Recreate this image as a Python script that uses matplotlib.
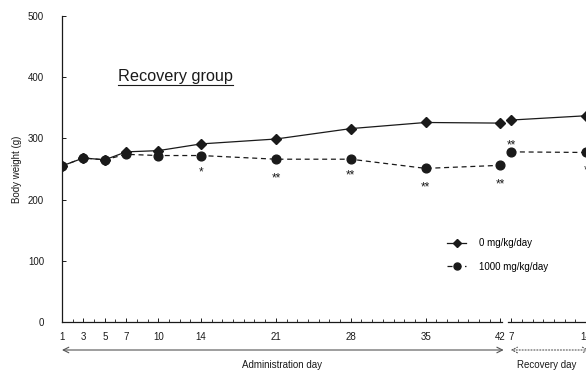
import numpy as np
import matplotlib.pyplot as plt
from matplotlib.lines import Line2D
import matplotlib.transforms as mtrans

plt.rcParams['font.family'] = ['Liberation Sans', 'DejaVu Sans']

# administration phase
adm_days = [1, 3, 5, 7, 10, 14, 21, 28, 35, 42]
ctrl_adm = [255, 268, 265, 278, 280, 291, 299, 316, 326, 325]
high_adm = [255, 268, 265, 274, 272, 272, 266, 266, 251, 256]
# recovery phase
rec_days = [7, 14]
ctrl_rec = [330, 337]
high_rec = [278, 277]
# significance marks for the 1000 mg/kg/day group
adm_marks = ['', '', '', '', '', '*', '**', '**', '**', '**']
rec_marks = ['**', '*']

REC_SHIFT = 36   # recovery day d drawn at x = d + 36
ink = '#1a1a1a'

fig = plt.figure(figsize=(5.86, 3.72), dpi=100)
ax = fig.add_axes([62/586, 50/372, 1 - 62/586, 306/372])

rec_x = [d + REC_SHIFT for d in rec_days]

solid = dict(color=ink, lw=0.9, marker='D', ms=5.5, mfc=ink, mec=ink)
dashed = dict(color=ink, lw=0.9, ls=(0, (4, 3)), marker='o', ms=6.3, mfc=ink, mec=ink)

ax.plot(adm_days, ctrl_adm, label='0 mg/kg/day', **solid)
ax.plot(adm_days, high_adm, label='1000 mg/kg/day', **dashed)
ax.plot(rec_x, ctrl_rec, **solid)
ax.plot(rec_x, high_rec, **dashed)

# asterisks
below = [0, 0, 0, 0, 0, -17, -19, -16, -19, -19]
for x, y, m, dy in zip(adm_days, high_adm, adm_marks, below):
    if m:
        ax.annotate(m, (x, y), xytext=(0, dy), textcoords='offset pixels',
                    ha='center', va='center', fontsize=8.5, color=ink)
for x, y, m, dy in zip(rec_x, high_rec, rec_marks, [6, -18]):
    ax.annotate(m, (x, y), xytext=(0, dy), textcoords='offset pixels',
                ha='center', va='center', fontsize=8.5, color=ink)

ax.set_xlim(1, 1 + 524/10.73)
ax.set_ylim(0, 500)

ax.set_yticks([0, 100, 200, 300, 400, 500])
ticks = adm_days + rec_x
ax.set_xticks(ticks)
ax.set_xticklabels([str(d) for d in adm_days] + [str(d) for d in rec_days])
ax.set_xticks(list(range(1, 43)) + list(range(43, 51)), minor=True)
ax.tick_params(axis='both', direction='in', length=3, width=0.7, colors=ink,
               labelsize=7)
ax.tick_params(axis='x', which='minor', direction='in', length=2.5, width=0.6, colors=ink)
ax.tick_params(axis='y', pad=13)
ax.tick_params(axis='x', pad=7)

for s in ['top', 'right', 'bottom']:
    ax.spines[s].set_visible(False)
ax.spines['left'].set_color(ink)
ax.spines['left'].set_linewidth(0.9)

# broken bottom axis
bt = ax.get_xaxis_transform()
ax.plot([1, 42.15], [0, 0], transform=bt, color=ink, lw=0.9, clip_on=False)
ax.plot([42.75, 52], [0, 0], transform=bt, color=ink, lw=0.9, clip_on=False)

ax.set_ylabel('Body weight (g)', fontsize=7, color=ink, labelpad=4)

# phase arrows below the axis
ay = mtrans.blended_transform_factory(ax.transData, fig.transFigure)
ax.annotate('', xy=(1, 22/372), xytext=(42.3, 22/372), xycoords=ay, textcoords=ay,
            arrowprops=dict(arrowstyle='<->', color='#555555', lw=0.8,
                            mutation_scale=10, shrinkA=0, shrinkB=0),
            annotation_clip=False)
ax.annotate('', xy=(42.95, 22/372), xytext=(50.3, 22/372), xycoords=ay, textcoords=ay,
            arrowprops=dict(arrowstyle='<->', color='#555555', lw=0.8, ls=':',
                            mutation_scale=10, shrinkA=0, shrinkB=0),
            annotation_clip=False)
fig.text(282/586, 7/372, 'Administration day', ha='center', va='center',
         fontsize=7, color=ink)
fig.text(517/586, 7/372, 'Recovery day', ha='left', va='center',
         fontsize=7, color=ink)

# panel title, underlined
t = fig.text(118/586, 1 - 77/372, 'Recovery group', ha='left', va='center',
             fontsize=11.7, color=ink)
fig.canvas.draw()
bb = t.get_window_extent()
fig.add_artist(Line2D([bb.x0 / 586, bb.x1 / 586], [1 - 85/372, 1 - 85/372],
                      transform=fig.transFigure, color=ink, lw=0.8))

ax.legend(loc='upper left', bbox_to_anchor=(447/586, 1 - 238/372),
          bbox_transform=fig.transFigure, frameon=False, fontsize=7,
          borderpad=0, borderaxespad=0, handlelength=2, handletextpad=1.3,
          labelspacing=1.4, markerscale=0.8)

fig.savefig('out.png', dpi=100)
